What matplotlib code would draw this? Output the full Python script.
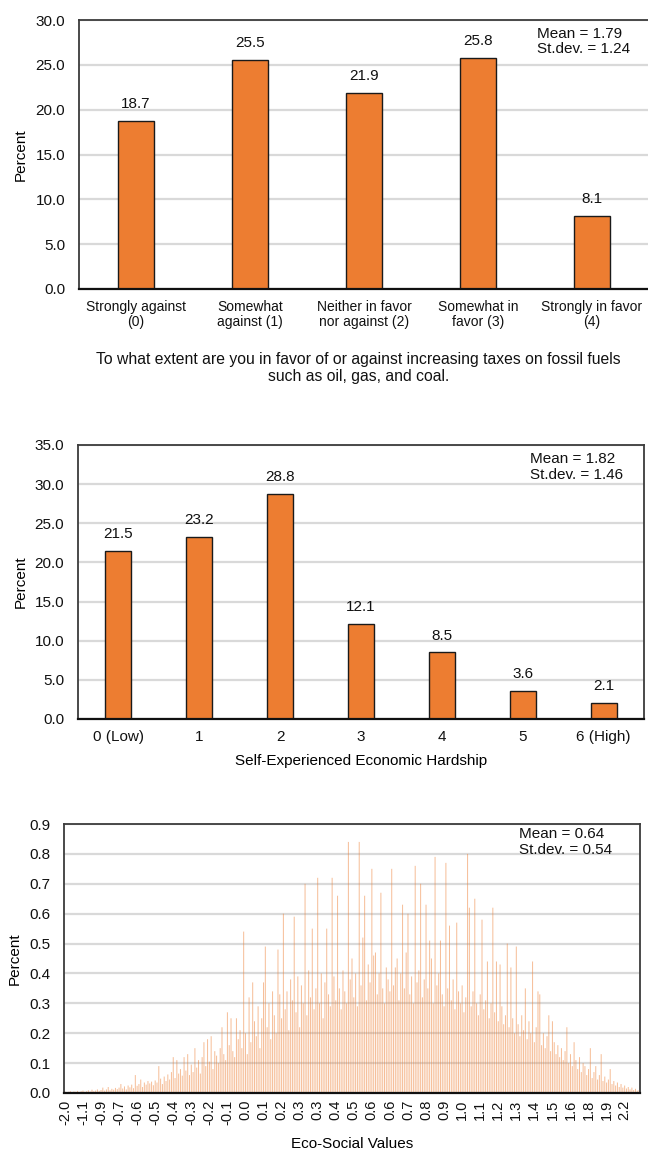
import matplotlib
matplotlib.use("Agg")
import matplotlib.pyplot as plt
import numpy as np

plt.rcParams['font.family'] = ['Liberation Sans', 'DejaVu Sans']
plt.rcParams['text.color'] = '#111111'
plt.rcParams['xtick.color'] = '#111111'
plt.rcParams['ytick.color'] = '#111111'

W, H = 648, 1152
BAR = '#ED7D31'
GRID = '#D9D9D9'
FRAME = '#3C3C3C'

# ---- Panel 1: support for fossil fuel taxes ----
tax_labels = ['Strongly against\n(0)', 'Somewhat\nagainst (1)',
              'Neither in favor\nnor against (2)', 'Somewhat in\nfavor (3)',
              'Strongly in favor\n(4)']
tax_values = [18.7, 25.5, 21.9, 25.8, 8.1]
tax_yticks = [0, 5, 10, 15, 20, 25, 30]
tax_title = ('To what extent are you in favor of or against increasing taxes on fossil fuels\n'
             'such as oil, gas, and coal.')
tax_stats = 'Mean = 1.79\nSt.dev. = 1.24'

# ---- Panel 2: economic hardship ----
hardship_labels = ['0 (Low)', '1', '2', '3', '4', '5', '6 (High)']
hardship_values = [21.5, 23.2, 28.8, 12.1, 8.5, 3.6, 2.1]
hardship_yticks = [0, 5, 10, 15, 20, 25, 30, 35]
hardship_stats = 'Mean = 1.82\nSt.dev. = 1.46'

# ---- Panel 3: eco-social values (one bar per observed score) ----
eco_tick_labels = ['-2.0', '-1.1', '-0.9', '-0.7', '-0.6', '-0.5', '-0.4', '-0.3',
                   '-0.2', '-0.1', '0.0', '0.1', '0.2', '0.3', '0.3', '0.4',
                   '0.5', '0.6', '0.6', '0.7', '0.8', '0.9', '1.0', '1.1',
                   '1.2', '1.3', '1.4', '1.5', '1.6', '1.8', '1.9', '2.2']
eco_values = [
    0.005, 0.003, 0.004, 0.006, 0.003, 0.005, 0.004, 0.007, 0.003, 0.006,
    0.008, 0.004, 0.006, 0.009, 0.005, 0.011, 0.006, 0.008, 0.012, 0.007,
    0.010, 0.018, 0.008, 0.012, 0.020, 0.009, 0.014, 0.011, 0.017, 0.013,
    0.018, 0.030, 0.015, 0.022, 0.012, 0.025, 0.019, 0.028, 0.016, 0.060,
    0.024, 0.030, 0.045, 0.020, 0.035, 0.028, 0.040, 0.032, 0.038, 0.026,
    0.042, 0.035, 0.090, 0.048, 0.030, 0.055, 0.040, 0.062, 0.045, 0.070,
    0.120, 0.050, 0.110, 0.065, 0.080, 0.058, 0.120, 0.075, 0.130, 0.060,
    0.095, 0.070, 0.150, 0.085, 0.110, 0.065, 0.120, 0.170, 0.090, 0.180,
    0.105, 0.190, 0.080, 0.140, 0.125, 0.100, 0.150, 0.220, 0.130, 0.110,
    0.270, 0.160, 0.250, 0.140, 0.120, 0.250, 0.180, 0.210, 0.150, 0.540,
    0.200, 0.130, 0.320, 0.170, 0.370, 0.240, 0.190, 0.290, 0.150, 0.250,
    0.370, 0.490, 0.220, 0.300, 0.180, 0.340, 0.260, 0.200, 0.480, 0.330,
    0.250, 0.600, 0.280, 0.340, 0.210, 0.380, 0.310, 0.590, 0.270, 0.390,
    0.220, 0.360, 0.300, 0.700, 0.260, 0.410, 0.320, 0.550, 0.280, 0.350,
    0.720, 0.300, 0.400, 0.250, 0.370, 0.550, 0.330, 0.290, 0.720, 0.390,
    0.310, 0.660, 0.350, 0.280, 0.410, 0.340, 0.300, 0.840, 0.380, 0.450,
    0.320, 0.400, 0.290, 0.840, 0.360, 0.520, 0.660, 0.310, 0.430, 0.370,
    0.750, 0.460, 0.470, 0.330, 0.400, 0.670, 0.350, 0.300, 0.420, 0.380,
    0.340, 0.750, 0.360, 0.420, 0.450, 0.310, 0.400, 0.630, 0.350, 0.470,
    0.600, 0.330, 0.390, 0.300, 0.760, 0.370, 0.410, 0.700, 0.320, 0.380,
    0.630, 0.350, 0.510, 0.450, 0.300, 0.790, 0.360, 0.400, 0.510, 0.330,
    0.290, 0.770, 0.350, 0.560, 0.310, 0.380, 0.280, 0.570, 0.340, 0.300,
    0.360, 0.270, 0.320, 0.800, 0.620, 0.290, 0.340, 0.650, 0.300, 0.260,
    0.330, 0.580, 0.280, 0.310, 0.440, 0.250, 0.300, 0.620, 0.270, 0.440,
    0.240, 0.430, 0.290, 0.230, 0.260, 0.500, 0.220, 0.420, 0.250, 0.200,
    0.490, 0.230, 0.190, 0.260, 0.210, 0.350, 0.180, 0.240, 0.200, 0.440,
    0.170, 0.220, 0.340, 0.330, 0.160, 0.200, 0.150, 0.190, 0.260, 0.140,
    0.240, 0.170, 0.130, 0.160, 0.120, 0.150, 0.110, 0.140, 0.220, 0.100,
    0.130, 0.090, 0.170, 0.110, 0.080, 0.120, 0.070, 0.100, 0.090, 0.060,
    0.080, 0.150, 0.050, 0.070, 0.090, 0.045, 0.060, 0.130, 0.040, 0.055,
    0.035, 0.045, 0.080, 0.030, 0.040, 0.025, 0.035, 0.020, 0.030, 0.018,
    0.025, 0.015, 0.020, 0.012, 0.018, 0.010, 0.014, 0.008, 0.010,
]
eco_label_step = 10
eco_yticks = [0.0, 0.1, 0.2, 0.3, 0.4, 0.5, 0.6, 0.7, 0.8, 0.9]
eco_stats = 'Mean = 0.64\nSt.dev. = 0.54'


fig = plt.figure(figsize=(W / 100, H / 100), dpi=100)


def px_axes(left, top, right, bottom):
    return fig.add_axes([left / W, 1 - bottom / H, (right - left) / W, (bottom - top) / H])


def frame(ax):
    ax.set_axisbelow(True)
    ax.grid(axis='y', color=GRID, linewidth=1.6)
    ax.grid(axis='x', visible=False)
    for side in ('top', 'left', 'right'):
        ax.spines[side].set_color(FRAME)
        ax.spines[side].set_linewidth(1.3)
    ax.spines['bottom'].set_color('#111111')
    ax.spines['bottom'].set_linewidth(1.6)
    ax.tick_params(axis='both', length=0)
    ax.tick_params(axis='y', pad=10, labelsize=11)


def ylabel_at(ax, text, x_px, left_px, width_px):
    ax.set_ylabel(text, fontsize=11, va='center')
    ax.yaxis.set_label_coords((x_px - left_px) / width_px, 0.5)


def value_labels(ax, values):
    for i, v in enumerate(values):
        ax.annotate(f'{v:.1f}', (i, v), xytext=(0, 12.2), textcoords='offset points',
                    ha='center', va='center', fontsize=11)


# Panel 1
L1, T1, R1, B1 = 79, 20, 649, 289
ax1 = px_axes(L1, T1, R1, B1)
x1 = np.arange(len(tax_values))
ax1.bar(x1, tax_values, width=0.316, color=BAR, edgecolor='#1a1a1a', linewidth=1.0)
ax1.set_xlim(-0.5, len(tax_values) - 0.5)
ax1.set_ylim(0, 30)
ax1.set_yticks(tax_yticks)
ax1.set_yticklabels([f'{t:.1f}' for t in tax_yticks])
ax1.set_xticks(x1)
ax1.set_xticklabels(tax_labels, fontsize=10, linespacing=1.1)
frame(ax1)
ax1.tick_params(axis='x', pad=8)
value_labels(ax1, tax_values)
ylabel_at(ax1, 'Percent', 20.5, L1, R1 - L1)
fig.text(537 / W, 1 - 41.5 / H, tax_stats, fontsize=11, ha='left', va='center', linespacing=1.15)
fig.text(358.5 / W, 1 - 368 / H, tax_title, fontsize=11.3, ha='center', va='center', linespacing=1.2)

# Panel 2
L2, T2, R2, B2 = 78, 445, 644, 719
ax2 = px_axes(L2, T2, R2, B2)
x2 = np.arange(len(hardship_values))
ax2.bar(x2, hardship_values, width=0.32, color=BAR, edgecolor='#1a1a1a', linewidth=1.0)
ax2.set_xlim(-0.5, len(hardship_values) - 0.5)
ax2.set_ylim(0, 35)
ax2.set_yticks(hardship_yticks)
ax2.set_yticklabels([f'{t:.1f}' for t in hardship_yticks])
ax2.set_xticks(x2)
ax2.set_xticklabels(hardship_labels, fontsize=11)
frame(ax2)
ax2.tick_params(axis='x', pad=8)
value_labels(ax2, hardship_values)
ylabel_at(ax2, 'Percent', 20.5, L2, R2 - L2)
ax2.set_xlabel('Self-Experienced Economic Hardship', fontsize=11, va='center')
ax2.xaxis.set_label_coords(0.5, (B2 - 760.5) / (B2 - T2))
fig.text(530 / W, 1 - 467 / H, hardship_stats, fontsize=11, ha='left', va='center', linespacing=1.15)

# Panel 3
L3, T3, R3, B3 = 64, 824, 640, 1093
ax3 = px_axes(L3, T3, R3, B3)
x3 = np.arange(len(eco_values))
ax3.bar(x3, eco_values, width=0.55, color=BAR, alpha=0.5, linewidth=0, snap=False)
ax3.set_xlim(-0.5, len(eco_values) - 0.5)
ax3.set_ylim(0, 0.9)
ax3.set_yticks(eco_yticks)
ax3.set_yticklabels([f'{t:.1f}' for t in eco_yticks])
ax3.set_xticks(x3[::eco_label_step])
ax3.set_xticklabels(eco_tick_labels, rotation=90, fontsize=10.5)
frame(ax3)
ax3.tick_params(axis='x', pad=5)
ylabel_at(ax3, 'Percent', 14.5, L3, R3 - L3)
ax3.set_xlabel('Eco-Social Values', fontsize=11, va='center')
ax3.xaxis.set_label_coords(0.5, (B3 - 1144) / (B3 - T3))
fig.text(519 / W, 1 - 842 / H, eco_stats, fontsize=11, ha='left', va='center', linespacing=1.15)

fig.savefig('out.png', dpi=100, facecolor='white')
